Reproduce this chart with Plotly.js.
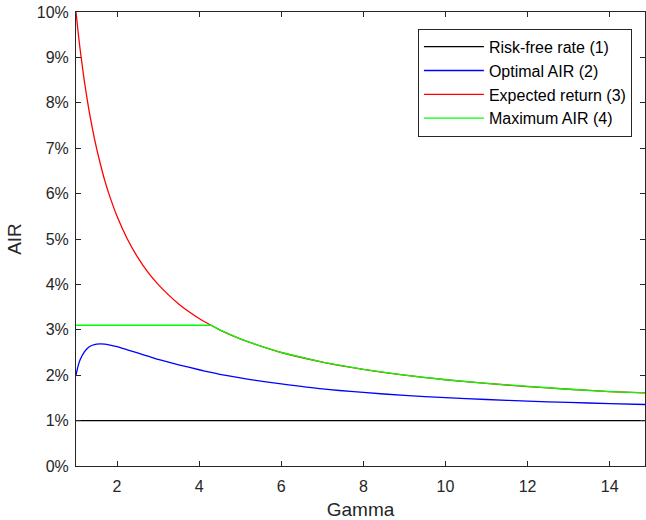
<!DOCTYPE html>
<html>
<head>
<meta charset="utf-8">
<script src="https://cdn.plot.ly/plotly-3.0.1.min.js"></script>
<style>html,body{margin:0;padding:0;background:#fff;}#chart{width:646px;height:520px;}</style>
</head>
<body>
<div id="chart"></div>
<script>
// Gamma sample points
const gamma = [1, 1.05, 1.1, 1.2, 1.3, 1.4, 1.5, 1.6, 1.7, 1.8, 2, 2.25, 2.5, 2.75, 3, 3.5, 4, 4.29, 4.5, 5, 5.5, 6, 7, 8, 9, 10, 11, 12, 13, 14, 14.86];
// Values in %
const riskFree = [1, 1, 1, 1, 1, 1, 1, 1, 1, 1, 1, 1, 1, 1, 1, 1, 1, 1, 1, 1, 1, 1, 1, 1, 1, 1, 1, 1, 1, 1, 1];
const optimalAIR = [2.0, 2.2, 2.34, 2.51, 2.61, 2.66, 2.685, 2.69, 2.685, 2.67, 2.63, 2.56, 2.49, 2.42, 2.35, 2.23, 2.12, 2.06, 2.02, 1.94, 1.87, 1.81, 1.70, 1.62, 1.555, 1.505, 1.465, 1.43, 1.40, 1.375, 1.355];
const expectedReturn = [10.0, 9.57, 9.18, 8.5, 7.92, 7.43, 7.0, 6.63, 6.29, 6.0, 5.5, 5.0, 4.6, 4.27, 4.0, 3.57, 3.25, 3.1, 3.0, 2.8, 2.64, 2.5, 2.29, 2.13, 2.0, 1.9, 1.82, 1.75, 1.69, 1.64, 1.61];
const maximumAIR = [3.1, 3.1, 3.1, 3.1, 3.1, 3.1, 3.1, 3.1, 3.1, 3.1, 3.1, 3.1, 3.1, 3.1, 3.1, 3.1, 3.1, 3.1, 3.0, 2.8, 2.64, 2.5, 2.29, 2.13, 2.0, 1.9, 1.82, 1.75, 1.69, 1.64, 1.61];
const names = ['Risk-free rate (1)', 'Optimal AIR (2)', 'Expected return (3)', 'Maximum AIR (4)'];
const colors = ['#000000', '#0000ff', '#ff0000', '#00ff00'];
const xTicks = [2, 4, 6, 8, 10, 12, 14];
const yTicks = [0, 1, 2, 3, 4, 5, 6, 7, 8, 9, 10];
const yTickText = ['0%', '1%', '2%', '3%', '4%', '5%', '6%', '7%', '8%', '9%', '10%'];

const series = [riskFree, optimalAIR, expectedReturn, maximumAIR];
const traces = series.map((s, i) => ({
  x: gamma, y: s, type: 'scatter', mode: 'lines', name: names[i],
  line: {color: colors[i], width: 1.3, shape: 'spline', smoothing: 0.7}
}));
// Maximum AIR: flat then follows expected return (keep the corner sharp)
traces[3].line.shape = 'linear';
traces[0].line.shape = 'linear';

const FONT = 'Liberation Sans, Arial, Helvetica, sans-serif';
const axFont = {family: FONT, size: 16, color: '#262626'};
const layout = {
  width: 646, height: 520,
  margin: {l: 76, r: 1, t: 12, b: 54},
  paper_bgcolor: '#ffffff', plot_bgcolor: '#ffffff',
  showlegend: true,
  legend: {
    x: 0.977, y: 0.963, xanchor: 'right', yanchor: 'top',
    bgcolor: '#ffffff', bordercolor: '#262626', borderwidth: 1,
    font: {family: FONT, size: 16, color: '#000000'},
    itemwidth: 60,
    tracegroupgap: 0
  },
  xaxis: {
    range: [1, 14.86], tickvals: xTicks, ticktext: xTicks.map(String),
    ticks: 'inside', ticklen: 5, tickcolor: '#262626', tickwidth: 1,
    showline: true, linecolor: '#262626', linewidth: 1, mirror: 'ticks',
    showgrid: false, zeroline: false, tickfont: axFont, ticklabelstandoff: 6,
    title: {text: 'Gamma', font: {family: FONT, size: 19, color: '#262626'}, standoff: 10}
  },
  yaxis: {
    range: [0, 10], tickvals: yTicks, ticktext: yTickText,
    ticks: 'inside', ticklen: 5, tickcolor: '#262626', tickwidth: 1,
    showline: true, linecolor: '#262626', linewidth: 1, mirror: 'ticks',
    showgrid: false, zeroline: false, tickfont: axFont, ticklabelstandoff: 3,
    title: {text: 'AIR', font: {family: FONT, size: 19, color: '#262626'}, standoff: 10}
  }
};
Plotly.newPlot('chart', traces, layout, {displayModeBar: false, staticPlot: true});
</script>
</body>
</html>
